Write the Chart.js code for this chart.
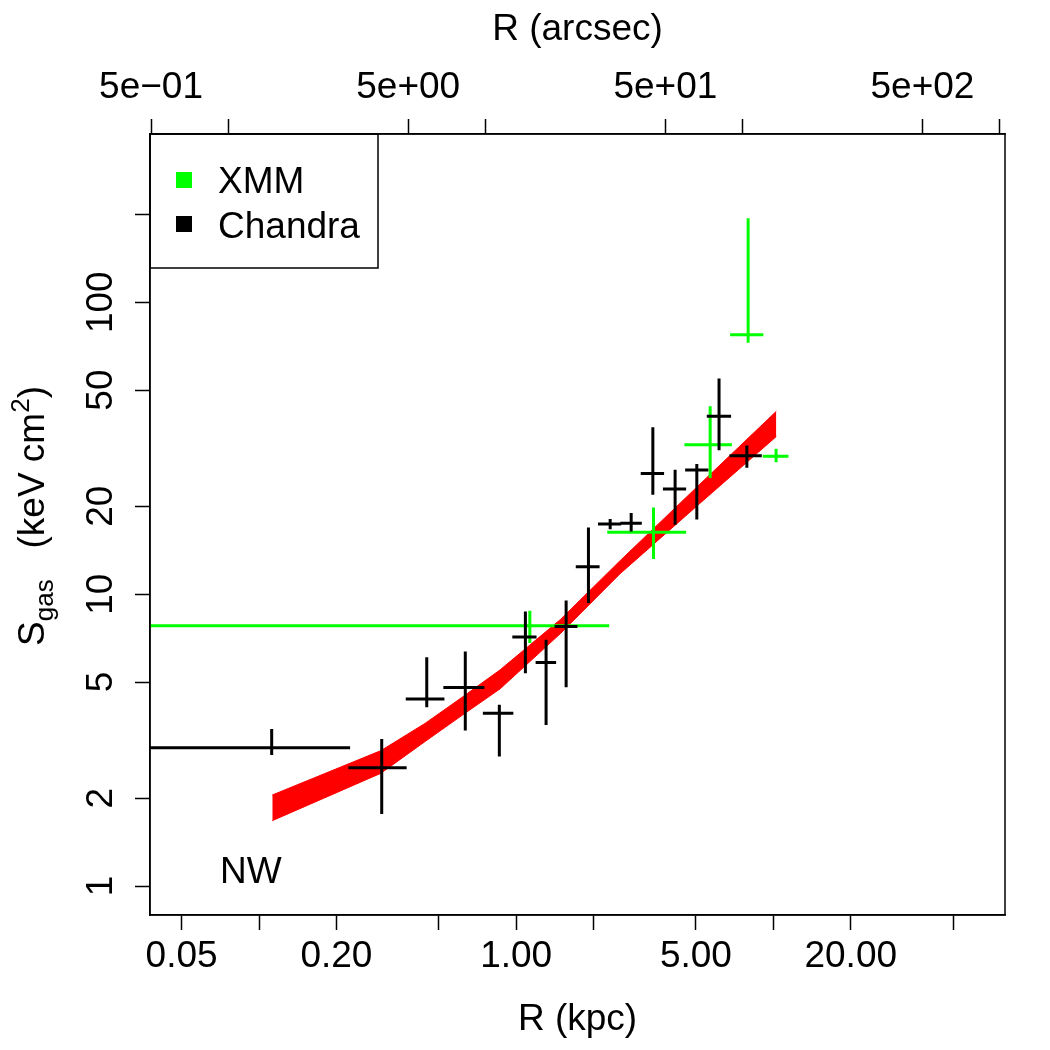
<!DOCTYPE html>
<html>
<head>
<meta charset="utf-8">
<script src="https://cdn.jsdelivr.net/npm/chart.js@4.4.1/dist/chart.umd.min.js"></script>
<style>
  html, body { margin: 0; padding: 0; background: #fff; }
</style>
</head>
<body>
<canvas id="myChart" width="1050" height="1050"></canvas>
<script>
// Chandra points: radius (kpc) with bin edges, entropy (keV cm^2) with errors
const chandraR   = [0.112, 0.300, 0.449, 0.634, 0.860, 1.086, 1.307, 1.564, 1.91, 2.32, 2.80, 3.40, 4.15, 5.04, 6.15, 7.89];
const chandraRLo = [0.01, 0.2225, 0.372, 0.521, 0.742, 0.966, 1.19, 1.41, 1.705, 2.08, 2.54, 3.05, 3.72, 4.54, 5.51, 6.75];
const chandraRHi = [0.226, 0.375, 0.526, 0.752, 0.975, 1.20, 1.43, 1.73, 2.11, 2.56, 3.08, 3.76, 4.58, 5.59, 6.85, 9.02];
const chandraS   = [2.98, 2.545, 4.37, 4.79, 3.91, 7.13, 5.83, 7.75, 12.4, 17.4, 17.5, 25.9, 22.9, 26.6, 40.7, 29.8];
const chandraSLo = [2.81, 1.766, 4.10, 3.41, 2.78, 5.36, 3.56, 4.80, 9.32, 16.7, 16.4, 21.9, 17.3, 18.0, 31.1, 27.1];
const chandraSHi = [3.45, 3.19, 6.08, 6.36, 4.18, 8.72, 6.98, 9.51, 16.9, 18.1, 18.97, 37.3, 26.7, 27.9, 54.8, 32.3];

// XMM points
const xmmR   = [1.13, 3.42, 5.68, 7.98, 10.25];
const xmmRLo = [0.01, 2.26, 4.51, 6.79, 9.10];
const xmmRHi = [2.30, 4.58, 6.90, 9.15, 11.45];
const xmmS   = [7.79, 16.3, 32.5, 77.4, 29.7];
const xmmSLo = [6.80, 13.2, 25.0, 72.6, 28.3];
const xmmSHi = [8.77, 19.8, 44.0, 193.8, 31.5];

// model band (red)
const bandR  = [0.1126, 0.298, 0.442, 0.62, 0.866, 1.482, 2.536, 5.19, 10.27];
const bandHi = [2.051, 2.911, 3.608, 4.45, 5.504, 8.17, 13.02, 23.84, 42.3];
const bandLo = [1.675, 2.435, 3.126, 3.86, 4.738, 7.31, 11.75, 20.49, 34.66];

// axes
const kpcMin = 0.03767, kpcMax = 79.6;
const kpcPerArcsec = 1 / 13.15;
const kpcTicks = [0.05, 0.1, 0.2, 0.5, 1, 2, 5, 10, 20, 50];
const kpcTickLabels = ['0.05', '', '0.20', '', '1.00', '', '5.00', '', '20.00', ''];
const arcTicks = [0.5, 1, 5, 10, 50, 100, 500, 1000];
const arcTickLabels = ['5e\u221201', '', '5e+00', '', '5e+01', '', '5e+02', ''];
const sMin = 0.796, sMax = 376.9;
const sTicks = [1, 2, 5, 10, 20, 50, 100, 200];
const sTickLabels = ['1', '2', '5', '10', '20', '50', '100', ''];

const FONT = "'Liberation Sans', Arial, Helvetica, sans-serif";
Chart.defaults.font.family = FONT;
Chart.defaults.font.size = 37;
Chart.defaults.color = '#000';

// each point -> horizontal + vertical segment, null breaks the line
function errorBars(r, rLo, rHi, s, sLo, sHi) {
    let pts = [];
    for (let i = 0; i < r.length; i++) {
        pts.push({x: rLo[i], y: s[i]}, {x: rHi[i], y: s[i]}, {x: r[i], y: null});
        pts.push({x: r[i], y: sLo[i]}, {x: r[i], y: sHi[i]}, {x: r[i], y: null});
    }
    return pts;
}

const tickGrid = { drawOnChartArea: false, drawTicks: true, tickLength: 15, tickWidth: 1.5, tickColor: '#000' };
const axisBorder = { display: true, color: '#000', width: 1.5 };

// legend box, NW label, y title and frame
const extras = {
    id: 'extras',
    afterDraw(chart) {
        const ctx = chart.ctx;
        const a = chart.chartArea;
        ctx.save();
        ctx.strokeStyle = '#000';
        ctx.lineWidth = 1.5;
        ctx.strokeRect(a.left, a.top, a.right - a.left, a.bottom - a.top);

        // legend
        ctx.strokeRect(a.left, a.top, 228, 134);
        ctx.fillStyle = '#00ff00';
        ctx.fillRect(a.left + 26, a.top + 38, 16, 16);
        ctx.fillStyle = '#000';
        ctx.fillRect(a.left + 26, a.top + 82, 16, 16);
        ctx.font = '37px ' + FONT;
        ctx.textBaseline = 'alphabetic';
        ctx.textAlign = 'left';
        ctx.fillText('XMM', a.left + 68, a.top + 59);
        ctx.fillText('Chandra', a.left + 68, a.top + 104);

        ctx.fillText('NW', a.left + 70, 883);

        // y title: S_gas (keV cm^2)
        const big = '37px ' + FONT, small = '26px ' + FONT;
        const parts = [
            {t: 'S', f: big, dy: 0},
            {t: 'gas', f: small, dy: 9},
            {t: '   (keV cm', f: big, dy: 0},
            {t: '2', f: small, dy: -15},
            {t: ')', f: big, dy: 0}
        ];
        let total = 0;
        parts.forEach(p => { ctx.font = p.f; p.w = ctx.measureText(p.t).width; total += p.w; });
        ctx.translate(44, 516);
        ctx.rotate(-Math.PI / 2);
        let x = -total / 2;
        parts.forEach(p => { ctx.font = p.f; ctx.fillText(p.t, x, p.dy); x += p.w; });
        ctx.restore();
    }
};

const config = {
    type: 'line',
    data: {
        datasets: [
            {
                label: 'band low',
                data: bandR.map((r, i) => ({x: r, y: bandLo[i]})),
                borderColor: '#ff0000', borderWidth: 1, pointRadius: 0, fill: false, order: 3
            },
            {
                label: 'band high',
                data: bandR.map((r, i) => ({x: r, y: bandHi[i]})),
                borderColor: '#ff0000', backgroundColor: '#ff0000', borderWidth: 1, pointRadius: 0, fill: '-1', order: 3
            },
            {
                label: 'XMM',
                data: errorBars(xmmR, xmmRLo, xmmRHi, xmmS, xmmSLo, xmmSHi),
                borderColor: '#00ff00', borderWidth: 3, pointRadius: 0, fill: false, order: 1
            },
            {
                label: 'Chandra',
                data: errorBars(chandraR, chandraRLo, chandraRHi, chandraS, chandraSLo, chandraSHi),
                borderColor: '#000000', borderWidth: 3, pointRadius: 0, fill: false, order: 0
            }
        ]
    },
    options: {
        responsive: false,
        animation: false,
        layout: { padding: { left: 0, right: 45, top: 0, bottom: 0 } },
        elements: { line: { tension: 0, borderCapStyle: 'butt' } },
        plugins: { legend: { display: false }, tooltip: { enabled: false } },
        scales: {
            x: {
                type: 'logarithmic', position: 'bottom', min: kpcMin, max: kpcMax, bounds: 'data',
                afterBuildTicks: s => { s.ticks = kpcTicks.map(v => ({value: v})); },
                afterFit: s => { s.height = 135; },
                ticks: { autoSkip: false, maxRotation: 0, minRotation: 0, padding: 5,
                         callback: (v, i) => kpcTickLabels[i] },
                grid: tickGrid, border: axisBorder,
                title: { display: true, text: 'R (kpc)', padding: { top: 0, bottom: 8 } }
            },
            x2: {
                axis: 'x', type: 'logarithmic', position: 'top',
                min: kpcMin / kpcPerArcsec, max: kpcMax / kpcPerArcsec, bounds: 'data',
                afterBuildTicks: s => { s.ticks = arcTicks.map(v => ({value: v})); },
                afterFit: s => { s.height = 134; },
                ticks: { autoSkip: false, maxRotation: 0, minRotation: 0, padding: 9,
                         callback: (v, i) => arcTickLabels[i] },
                grid: tickGrid, border: axisBorder,
                title: { display: true, text: 'R (arcsec)', padding: { top: 8, bottom: 0 } }
            },
            y: {
                type: 'logarithmic', position: 'left', min: sMin, max: sMax, bounds: 'data',
                afterBuildTicks: s => { s.ticks = sTicks.map(v => ({value: v})); },
                afterFit: s => { s.width = 150; },
                ticks: { autoSkip: false, minRotation: 90, maxRotation: 90, crossAlign: 'center', padding: 2,
                         callback: (v, i) => sTickLabels[i] },
                grid: tickGrid, border: axisBorder
            }
        }
    },
    plugins: [extras]
};

new Chart(document.querySelector('#myChart').getContext('2d'), config);
</script>
</body>
</html>
